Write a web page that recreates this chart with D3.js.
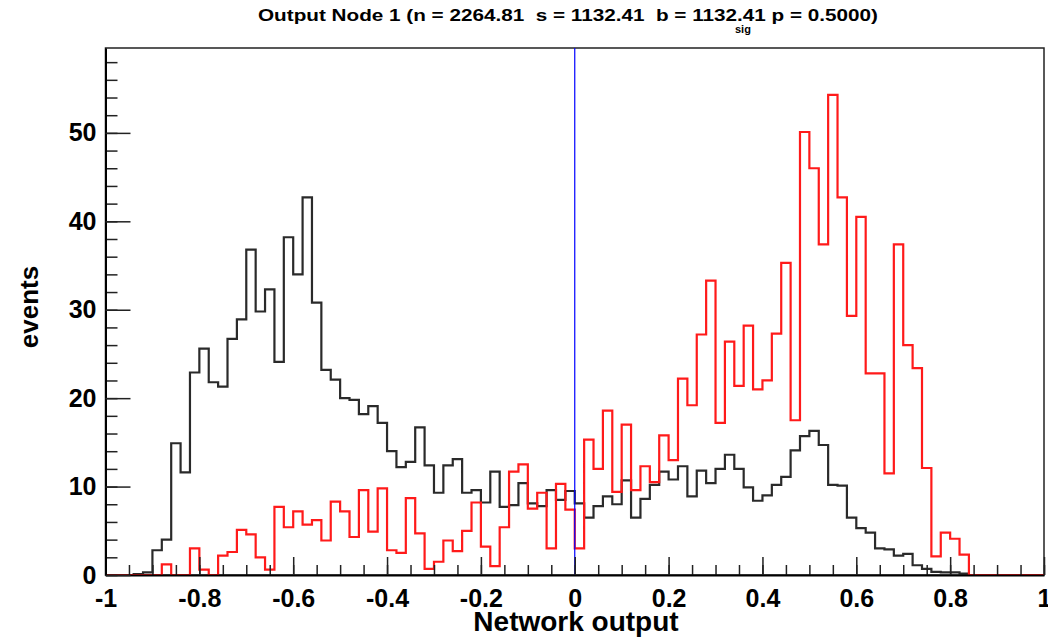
<!DOCTYPE html>
<html>
<head>
  <meta charset="utf-8">
  <style>
    body { margin: 0; background: white; }
    svg { display: block; }
    text { font-family: "Liberation Sans", Arial, Helvetica, sans-serif; font-weight: bold; }
  </style>
</head>
<body>
  <svg id="chart" width="1048" height="640"></svg>
  <script src="https://cdn.jsdelivr.net/npm/d3@7"></script>
  <script>
    // histogram range: 100 bins from -1 to 1
    var binRange = [-1, 1];
    // background (black) per bin
    var background = [
      0, 0, 0, 0.1, 0.3, 2.8, 4.0, 14.9, 11.6, 22.9,
      25.6, 21.8, 21.3, 26.7, 28.9, 36.8, 29.8, 32.3, 24.1, 38.2,
      34.0, 42.7, 30.8, 23.2, 22.1, 20.0, 19.8, 18.2, 19.1, 17.2,
      14.0, 12.2, 12.8, 16.7, 12.4, 9.3, 12.4, 13.1, 9.3, 9.6,
      8.2, 11.7, 7.7, 7.9, 10.4, 8.1, 7.8, 9.6, 8.5, 9.5,
      8.1, 6.5, 7.8, 8.9, 8.0, 10.7, 6.5, 8.6, 10.2, 11.7,
      10.8, 12.3, 8.9, 11.8, 10.4, 12.0, 13.6, 12.0, 9.9, 8.4,
      9.0, 10.2, 11.1, 14.1, 15.7, 16.3, 14.7, 10.2, 10.1, 6.5,
      5.3, 4.8, 3.0, 2.9, 2.2, 2.4, 1.1, 0.7, 0.35, 0.3,
      0.3, 0.15, 0, 0, 0, 0, 0, 0, 0, 0
    ];
    // signal (red) per bin
    var signal = [
      0, 0, 0, 0, 0, 0, 1.2, 0, 0, 3.0,
      0.6, 0, 2.2, 2.6, 5.1, 4.6, 2.0, 0.6, 7.7, 5.4,
      7.2, 5.7, 6.2, 3.9, 8.3, 7.2, 4.3, 9.6, 4.9, 9.8,
      2.8, 2.5, 8.7, 4.7, 0.7, 1.5, 3.9, 2.7, 5.0, 8.2,
      3.2, 1.0, 5.4, 11.7, 12.5, 7.5, 9.3, 3.0, 10.3, 7.4,
      3.0, 15.3, 12.0, 18.6, 9.4, 17.0, 9.6, 12.3, 10.5, 15.8,
      13.0, 22.2, 19.2, 27.2, 33.3, 17.2, 26.4, 21.4, 28.2, 21.0,
      22.0, 27.3, 35.3, 17.5, 50.1, 46.0, 37.4, 54.3, 42.7, 29.3,
      40.5, 22.8, 22.8, 11.5, 37.4, 26.0, 23.4, 12.1, 2.1, 4.8,
      4.1, 2.3, 0, 0, 0, 0, 0, 0, 0, 0
    ];
    var xMajorTicks = [-1, -0.8, -0.6, -0.4, -0.2, 0, 0.2, 0.4, 0.6, 0.8, 1];
    var xMinorStep = 0.05;
    var yMajorTicks = [0, 10, 20, 30, 40, 50];
    var yMinorStep = 2;
    var yMax = 59.6;
    var cutValue = 0;

    var frameLeft = 105.5, frameRight = 1044, frameTop = 48, frameBottom = 575;
    var svg = d3.select("#chart");

    var x = d3.scaleLinear().domain(binRange).range([frameLeft, frameRight]);
    var y = d3.scaleLinear().domain([0, yMax]).range([frameBottom, frameTop]);

    var nBins = background.length;
    var binW = (binRange[1] - binRange[0]) / nBins;

    // title (glyphs stretched a bit, like the ROOT rendering)
    svg.append("text")
      .attr("x", 258).attr("y", 21)
      .attr("font-size", 17)
      .attr("textLength", 620).attr("lengthAdjust", "spacingAndGlyphs")
      .style("white-space", "pre")
      .text("Output Node 1 (n = 2264.81  s = 1132.41  b = 1132.41 p = 0.5000)");
    svg.append("text")
      .attr("x", 735).attr("y", 33)
      .attr("font-size", 11)
      .text("sig");

    // frame
    svg.append("rect")
      .attr("x", frameLeft).attr("y", frameTop)
      .attr("width", frameRight - frameLeft).attr("height", frameBottom - frameTop)
      .attr("fill", "none").attr("stroke", "#222").attr("stroke-width", 1.5);

    svg.append("clipPath").attr("id", "plotClip")
      .append("rect")
      .attr("x", frameLeft).attr("y", frameTop)
      .attr("width", frameRight - frameLeft).attr("height", frameBottom - frameTop);

    function stepPoints(vals) {
      var pts = vals.map(function (v, i) { return [binRange[0] + i * binW, v]; });
      pts.push([binRange[1], vals[vals.length - 1]]);
      return pts;
    }
    var line = d3.line()
      .x(function (d) { return x(d[0]); })
      .y(function (d) { return y(d[1]); })
      .curve(d3.curveStepAfter);

    var plot = svg.append("g").attr("clip-path", "url(#plotClip)");
    plot.append("path")
      .datum(stepPoints(background))
      .attr("d", line)
      .attr("fill", "none").attr("stroke", "#2a2a2a").attr("stroke-width", 2.2);
    plot.append("path")
      .datum(stepPoints(signal))
      .attr("d", line)
      .attr("fill", "none").attr("stroke", "#ff1a1a").attr("stroke-width", 2.2);

    // cut line
    svg.append("line")
      .attr("x1", x(cutValue)).attr("x2", x(cutValue))
      .attr("y1", frameTop).attr("y2", frameBottom)
      .attr("stroke", "#0000ff").attr("stroke-width", 1.2);

    // x axis
    var xMinor = d3.range(binRange[0], binRange[1] + 1e-9, xMinorStep);
    svg.append("g")
      .attr("transform", "translate(0," + frameBottom + ")")
      .call(d3.axisBottom(x).tickValues(xMinor).tickSize(-10).tickSizeOuter(0).tickFormat(""))
      .call(function (g) { g.select(".domain").remove(); });
    var xAxis = svg.append("g")
      .attr("transform", "translate(0," + frameBottom + ")")
      .call(d3.axisBottom(x).tickValues(xMajorTicks).tickSize(-18).tickSizeOuter(0).tickPadding(14)
        .tickFormat(function (d) { return d3.format("")(d).replace("−", "-"); }));
    xAxis.select(".domain").attr("stroke-width", 2);
    xAxis.selectAll("text").attr("font-size", 25);
    xAxis.attr("font-family", null);

    // y axis
    var yMinor = d3.range(0, yMax, yMinorStep);
    svg.append("g")
      .attr("transform", "translate(" + frameLeft + ",0)")
      .call(d3.axisLeft(y).tickValues(yMinor).tickSize(-12).tickSizeOuter(0).tickFormat(""))
      .call(function (g) { g.select(".domain").remove(); });
    var yAxis = svg.append("g")
      .attr("transform", "translate(" + frameLeft + ",0)")
      .call(d3.axisLeft(y).tickValues(yMajorTicks).tickSize(-25).tickSizeOuter(0).tickPadding(9));
    yAxis.select(".domain").attr("stroke-width", 2);
    yAxis.selectAll("text").attr("font-size", 25);
    yAxis.attr("font-family", null);
    svg.selectAll(".tick line").attr("stroke", "#222").attr("stroke-width", 1.5);

    // axis titles
    svg.append("text")
      .attr("x", 576).attr("y", 631)
      .attr("text-anchor", "middle")
      .attr("font-size", 28)
      .text("Network output");
    svg.append("text")
      .attr("transform", "translate(38,307) rotate(-90)")
      .attr("text-anchor", "middle")
      .attr("font-size", 26)
      .text("events");
  </script>
</body>
</html>
